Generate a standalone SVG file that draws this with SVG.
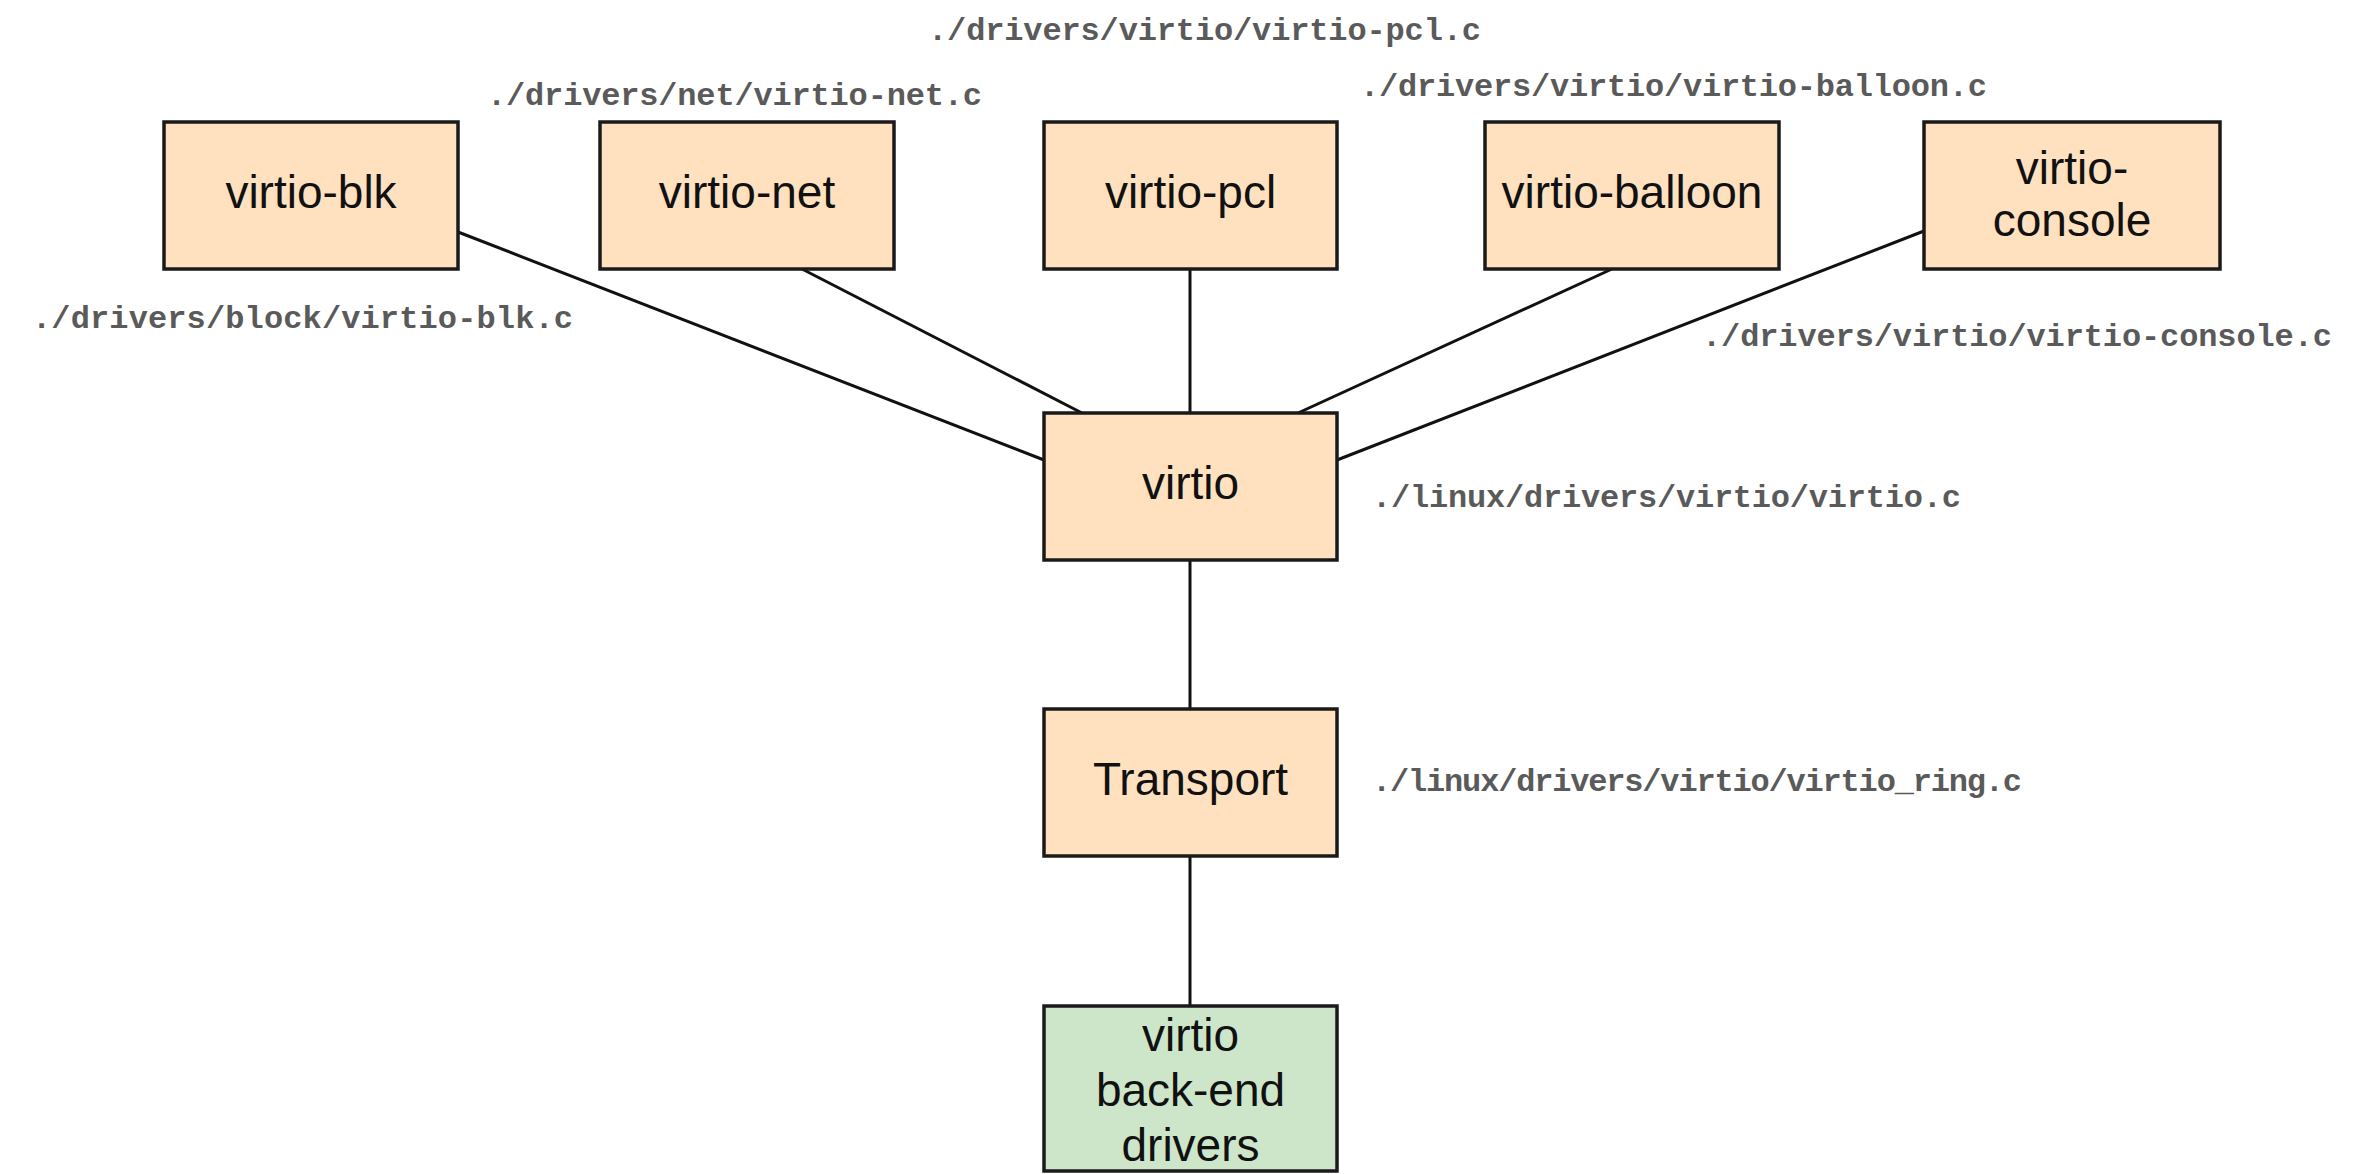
<svg xmlns="http://www.w3.org/2000/svg" width="2370" height="1174" viewBox="0 0 2370 1174">
<style>
.box{fill:#FFE1C0;stroke:#1a1a1a;stroke-width:3.5}
.green{fill:#CDE6CA;stroke:#1a1a1a;stroke-width:3.5}
.lbl{font-family:"Liberation Sans",Arial,sans-serif;font-size:46px;fill:#111;text-anchor:middle}
.path{font-family:"Liberation Mono","DejaVu Sans Mono",monospace;font-size:32px;fill:#5a5a5a;font-weight:bold}
.conn line{stroke:#111;stroke-width:3}
</style>
<rect width="2370" height="1174" fill="#fff"/>
<g class="conn" id="connectors">
<line x1="458" y1="232" x2="1044" y2="460"/>
<line x1="802" y1="269" x2="1082" y2="413"/>
<line x1="1190" y1="269" x2="1190" y2="413"/>
<line x1="1612" y1="269" x2="1298" y2="413"/>
<line x1="1924" y1="231" x2="1337" y2="460"/>
<line x1="1190" y1="560" x2="1190" y2="709"/>
<line x1="1190" y1="856" x2="1190" y2="1006"/>
</g>
<g id="virtio-blk"><rect class="box" x="164" y="122" width="294" height="147"/><text class="lbl" x="311" y="208">virtio-blk</text></g>
<g id="virtio-net"><rect class="box" x="600" y="122" width="294" height="147"/><text class="lbl" x="747" y="208">virtio-net</text></g>
<g id="virtio-pcl"><rect class="box" x="1044" y="122" width="293" height="147"/><text class="lbl" x="1190.5" y="208">virtio-pcl</text></g>
<g id="virtio-balloon"><rect class="box" x="1485" y="122" width="294" height="147"/><text class="lbl" x="1632" y="208">virtio-balloon</text></g>
<g id="virtio-console"><rect class="box" x="1924" y="122" width="296" height="147"/><text class="lbl" x="2072" y="184">virtio-</text><text class="lbl" x="2072" y="236">console</text></g>
<g id="virtio"><rect class="box" x="1044" y="413" width="293" height="147"/><text class="lbl" x="1190.5" y="499">virtio</text></g>
<g id="transport"><rect class="box" x="1044" y="709" width="293" height="147"/><text class="lbl" x="1190.5" y="795">Transport</text></g>
<g id="backend"><rect class="green" x="1044" y="1006" width="293" height="165"/><text class="lbl" x="1190.5" y="1051">virtio</text><text class="lbl" x="1190.5" y="1106">back-end</text><text class="lbl" x="1190.5" y="1161">drivers</text></g>
<g id="path-labels">
<text class="path" x="928" y="40" textLength="553">./drivers/virtio/virtio-pcl.c</text>
<text class="path" x="487" y="105" textLength="495">./drivers/net/virtio-net.c</text>
<text class="path" x="1360" y="96" textLength="627">./drivers/virtio/virtio-balloon.c</text>
<text class="path" x="32" y="328" textLength="541">./drivers/block/virtio-blk.c</text>
<text class="path" x="1702" y="346" textLength="630">./drivers/virtio/virtio-console.c</text>
<text class="path" x="1372" y="507" textLength="589">./linux/drivers/virtio/virtio.c</text>
<text class="path" x="1372" y="791" textLength="650">./linux/drivers/virtio/virtio_ring.c</text>
</g>
</svg>
